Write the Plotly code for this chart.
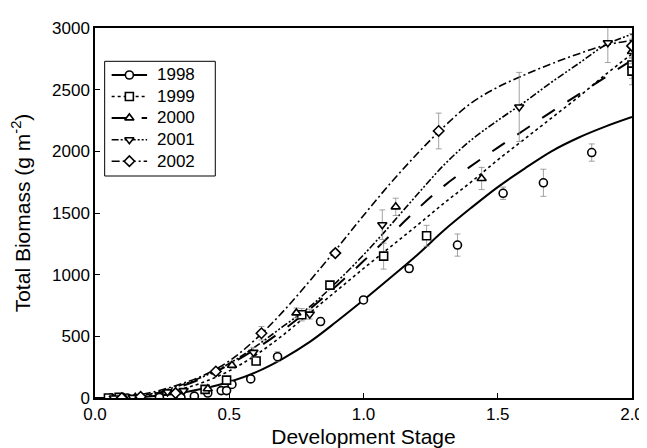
import plotly.graph_objects as go

# ---------------- data ----------------
years = ["1998", "1999", "2000", "2001", "2002"]

curve_x = [0.0, 0.1, 0.2, 0.3, 0.4, 0.5, 0.6, 0.7, 0.8, 0.9, 1.0,
           1.1, 1.2, 1.3, 1.4, 1.5, 1.6, 1.7, 1.8, 1.9, 2.0]
curve_1998 = [0, 3, 12, 35, 75, 130, 210, 320, 455, 620, 794,
              975, 1160, 1360, 1540, 1710, 1860, 2000, 2110, 2200, 2278]
curve_1999 = [0, 3, 20, 60, 125, 220, 350, 510, 690, 870, 1050,
              1225, 1400, 1580, 1750, 1930, 2100, 2270, 2440, 2620, 2790]
curve_2000 = [0, 3, 25, 80, 160, 270, 400, 550, 720, 910, 1110,
              1320, 1530, 1720, 1880, 2030, 2175, 2320, 2460, 2600, 2740]
curve_2001 = [0, 3, 30, 90, 170, 280, 420, 580, 740, 940, 1160,
              1400, 1650, 1890, 2090, 2250, 2400, 2560, 2710, 2860, 2950]
curve_2002 = [0, 8, 40, 100, 180, 300, 480, 700, 950, 1210, 1480,
              1740, 1980, 2200, 2390, 2520, 2620, 2710, 2790, 2860, 2900]

obs_x_1998 = [0.06, 0.12, 0.24, 0.32, 0.37, 0.42, 0.47, 0.49, 0.51, 0.58,
              0.68, 0.84, 1.00, 1.17, 1.35, 1.52, 1.67, 1.85]
obs_y_1998 = [0, 0, 5, 5, 15, 40, 60, 60, 110, 155,
              335, 620, 795, 1050, 1240, 1660, 1745, 1990]
err_1998 = [5, 5, 5, 5, 10, 15, 15, 15, 20, 30, 40, 30, 20, 30, 90, 50, 110, 70]

obs_x_1999 = [0.05, 0.09, 0.41, 0.49, 0.60, 0.77, 0.875, 1.075, 1.235, 2.0, 2.0]
obs_y_1999 = [0, 5, 70, 145, 300, 675, 915, 1150, 1315, 2700, 2650]
err_1999 = [5, 5, 15, 20, 30, 50, 25, 105, 85, 110, 110]

obs_x_2000 = [0.11, 0.15, 0.42, 0.51, 0.75, 1.12, 1.44, 2.0]
obs_y_2000 = [0, 5, 75, 265, 690, 1550, 1780, 2810]
err_2000 = [5, 5, 15, 25, 40, 70, 90, 100]

obs_x_2001 = [0.07, 0.14, 0.27, 0.33, 0.59, 0.80, 1.07, 1.58, 1.91]
obs_y_2001 = [0, 5, 50, 60, 370, 680, 1405, 2360, 2880]
err_2001 = [5, 5, 10, 10, 40, 40, 120, 280, 160]

obs_x_2002 = [0.10, 0.17, 0.30, 0.45, 0.62, 0.895, 1.28, 2.0]
obs_y_2002 = [0, 10, 40, 215, 525, 1175, 2165, 2855]
err_2002 = [5, 5, 10, 15, 55, 25, 145, 100]

x_tickvals = [0.0, 0.5, 1.0, 1.5, 2.0]
x_ticktext = ["0.0", "0.5", "1.0", "1.5", "2.0"]
y_tickvals = [0, 500, 1000, 1500, 2000, 2500, 3000]
y_ticktext = ["0", "500", "1000", "1500", "2000", "2500", "3000"]

# ---------------- styles ----------------
curves = [curve_1998, curve_1999, curve_2000, curve_2001, curve_2002]
obs = [(obs_x_1998, obs_y_1998, err_1998), (obs_x_1999, obs_y_1999, err_1999),
       (obs_x_2000, obs_y_2000, err_2000), (obs_x_2001, obs_y_2001, err_2001),
       (obs_x_2002, obs_y_2002, err_2002)]
dashes = ["solid", "dot", "longdash", "7px,2px,2px,2px,2px,2px", "8px,3px,2px,3px"]
widths = [2.0, 1.6, 2.0, 1.6, 1.6]
symbols = ["circle", "square", "triangle-up", "triangle-down", "diamond"]

FONT = "Liberation Sans, Arial, sans-serif"
MSIZE = 8

fig = go.Figure()
for i, yr in enumerate(years):
    fig.add_trace(go.Scatter(
        x=curve_x, y=curves[i], mode="lines", line_shape="spline",
        line=dict(color="black", width=widths[i], dash=dashes[i]),
        showlegend=False, hoverinfo="skip"))
for i, yr in enumerate(years):
    ox, oy, oe = obs[i]
    fig.add_trace(go.Scatter(
        x=ox, y=oy, mode="markers", name=yr,
        marker=dict(symbol=symbols[i], size=MSIZE, color="white",
                    line=dict(color="black", width=1.6)),
        error_y=dict(type="data", array=oe, color="#8a8a8a",
                     thickness=0.8, width=3),
        showlegend=False))

# ---------------- hand-drawn legend (overlay axes in plot fractions) ----------------
leg_x0, leg_xm, leg_x1, leg_tx = 0.031, 0.064, 0.097, 0.112
leg_rows = [0.873, 0.815, 0.757, 0.698, 0.640]
for i, yr in enumerate(years):
    fy = leg_rows[i]
    fig.add_trace(go.Scatter(
        x=[leg_x0, leg_x1], y=[fy, fy], mode="lines", xaxis="x2", yaxis="y2",
        line=dict(color="black", width=widths[i], dash=dashes[i]),
        showlegend=False, hoverinfo="skip"))
    fig.add_trace(go.Scatter(
        x=[leg_xm], y=[fy], mode="markers", xaxis="x2", yaxis="y2",
        marker=dict(symbol=symbols[i], size=MSIZE, color="white",
                    line=dict(color="black", width=1.6)),
        showlegend=False, hoverinfo="skip"))
    fig.add_annotation(x=leg_tx, y=fy, xref="paper", yref="paper",
                       text=yr, showarrow=False, xanchor="left", yanchor="middle",
                       font=dict(family=FONT, size=17, color="black"))
fig.add_shape(type="rect", xref="paper", yref="paper",
              x0=0.018, x1=0.224, y0=0.600, y1=0.910,
              line=dict(color="black", width=1), fillcolor="white", layer="below")

fig.update_layout(
    width=647, height=448,
    margin=dict(l=87, r=11, t=16, b=54),
    paper_bgcolor="white", plot_bgcolor="white",
    font=dict(family=FONT, size=17, color="black"),
    showlegend=False,
    xaxis2=dict(overlaying="x", range=[0, 1], visible=False, fixedrange=True),
    yaxis2=dict(overlaying="y", range=[0, 1], visible=False, fixedrange=True),
)
fig.update_layout(xaxis=dict(
    range=[0, 2.0], tickvals=x_tickvals, ticktext=x_ticktext,
    showgrid=False, zeroline=False, showline=True, linecolor="black",
    linewidth=1.5, mirror=True, ticks="inside", ticklen=5, tickcolor="black",
    tickfont=dict(family=FONT, size=17),
    title=dict(text="Development Stage", font=dict(family=FONT, size=21),
               standoff=6)))
fig.update_layout(yaxis=dict(
    range=[0, 3000], tickvals=y_tickvals, ticktext=y_ticktext,
    showgrid=False, zeroline=False, showline=True, linecolor="black",
    linewidth=1.5, mirror=True, ticks="inside", ticklen=5, tickcolor="black",
    tickfont=dict(family=FONT, size=17),
    title=dict(text="Total Biomass (g m<sup>-2</sup>)",
               font=dict(family=FONT, size=21), standoff=18)))

fig.write_html("out.html")
